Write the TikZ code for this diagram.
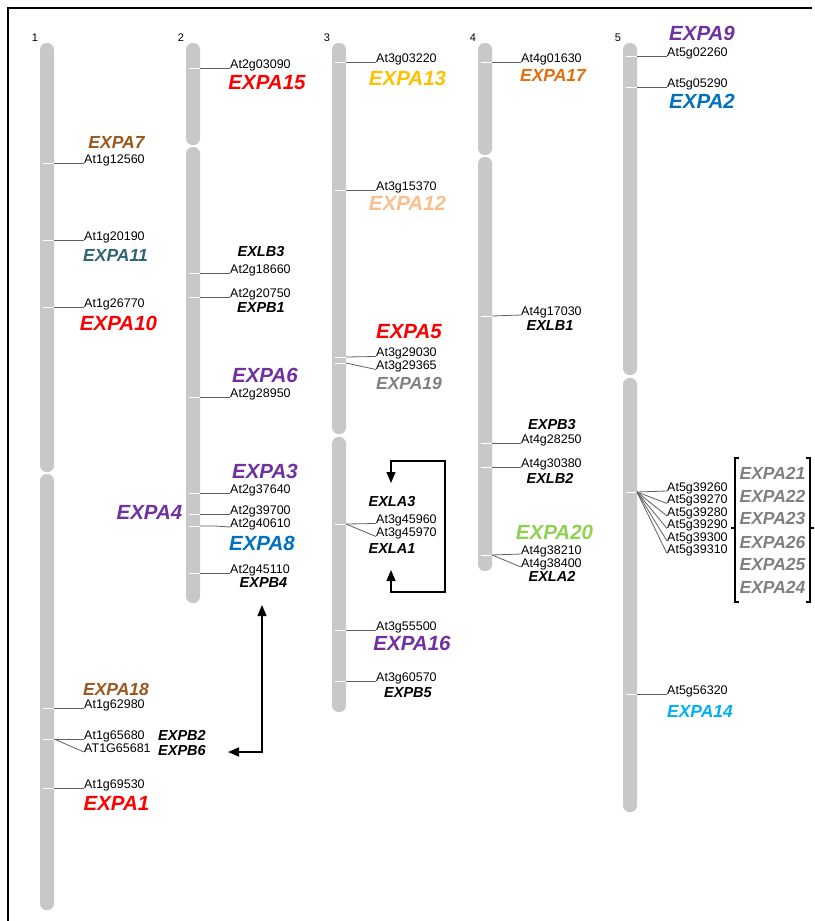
\documentclass[tikz,border=0pt]{standalone}
\usepackage{fontspec}
\setmainfont{Liberation Sans}
\usetikzlibrary{arrows.meta}

\definecolor{chromgrey}{RGB}{200,200,200}
\definecolor{linkgrey}{RGB}{95,95,95}
\definecolor{gred}{RGB}{255,0,0}
\definecolor{gpurple}{RGB}{112,48,160}
\definecolor{gblue}{RGB}{0,112,192}
\definecolor{gsky}{RGB}{0,176,240}
\definecolor{gbrown}{RGB}{156,87,28}
\definecolor{gteal}{RGB}{49,99,112}
\definecolor{ggold}{RGB}{255,192,0}
\definecolor{gpeach}{RGB}{250,191,143}
\definecolor{gorange}{RGB}{228,108,10}
\definecolor{ggreen}{RGB}{146,208,80}
\definecolor{ggrey}{RGB}{128,128,128}

\begin{document}
\begin{tikzpicture}[x=1pt,y=-1pt,
  chrom/.style={fill=chromgrey,rounded corners=6.5pt},
  band/.style={white,line width=1pt},
  link/.style={linkgrey,line width=0.8pt},
  locus/.style={inner sep=0pt,anchor=base west,font=\fontsize{12.5}{13}\selectfont},
  chrnum/.style={inner sep=0pt,font=\fontsize{11}{12}\selectfont},
  gbig/.style={inner sep=0pt,font=\fontsize{20.5}{22}\selectfont\bfseries\itshape},
  gmid/.style={inner sep=0pt,font=\fontsize{17.5}{19}\selectfont\bfseries\itshape},
  gsmall/.style={inner sep=0pt,font=\fontsize{14.5}{16}\selectfont\bfseries\itshape},
  arrowline/.style={line width=1.4pt,{Triangle[length=11pt,width=9pt]}-{Triangle[length=11pt,width=9pt]}},
  brack/.style={line width=1.3pt}
]
\useasboundingbox (0,0) rectangle (814,921);

% frame
\draw[line width=2pt] (8,921) -- (8,8) -- (812,8);

% chromosome numbers
\node[chrnum] (n1) at (35,38) {1};
\node[chrnum] (n2) at (181,38) {2};
\node[chrnum] (n3) at (327,38) {3};
\node[chrnum] (n4) at (473,38) {4};
\node[chrnum] (n5) at (618,38) {5};

% chromosome arms
\fill[chrom] (40,43) rectangle (54,472);
\fill[chrom] (40,474) rectangle (54,910);
\fill[chrom] (186,43) rectangle (200,145);
\fill[chrom] (186,147) rectangle (200,603);
\fill[chrom] (332,43) rectangle (346,434);
\fill[chrom] (332,437) rectangle (346,712);
\fill[chrom] (478,43) rectangle (492,155);
\fill[chrom] (478,157) rectangle (492,571);
\fill[chrom] (623,43) rectangle (637,375);
\fill[chrom] (623,378) rectangle (637,812);

% marker bands
\foreach \y in {163,240,307,708,739,788} \draw[band] (43,\y) -- (54,\y);
\foreach \y in {68,273,297,397,493,514,526,573} \draw[band] (189,\y) -- (200,\y);
\foreach \y in {62,190,357,363,524,630,681} \draw[band] (335,\y) -- (346,\y);
\foreach \y in {62,316,443,467,555} \draw[band] (481,\y) -- (492,\y);
\foreach \y in {56,87,492,694} \draw[band] (626,\y) -- (637,\y);

% marker anchor points on the chromosome edges
\coordinate (c1a) at (54,163);  \coordinate (c1b) at (54,240);
\coordinate (c1c) at (54,307);  \coordinate (c1d) at (54,708);
\coordinate (c1e) at (54,739);  \coordinate (c1f) at (54,788);
\coordinate (c2a) at (200,68);  \coordinate (c2b) at (200,273);
\coordinate (c2c) at (200,297); \coordinate (c2d) at (200,397);
\coordinate (c2e) at (200,493); \coordinate (c2f) at (200,514);
\coordinate (c2g) at (200,526); \coordinate (c2h) at (200,573);
\coordinate (c3a) at (346,62);  \coordinate (c3b) at (346,190);
\coordinate (c3c) at (346,357); \coordinate (c3d) at (346,363);
\coordinate (c3e) at (346,524); \coordinate (c3f) at (346,630);
\coordinate (c3g) at (346,681);
\coordinate (c4a) at (492,62);  \coordinate (c4b) at (492,316);
\coordinate (c4c) at (492,443); \coordinate (c4d) at (492,467);
\coordinate (c4e) at (492,555);
\coordinate (c5a) at (637,56);  \coordinate (c5b) at (637,87);
\coordinate (c5c) at (637,492); \coordinate (c5d) at (637,694);

% chromosome 1 loci
\node[locus] (l1a) at (84,163) {At1g12560};
\node[locus] (l1b) at (84,240) {At1g20190};
\node[locus] (l1c) at (84,307) {At1g26770};
\node[locus] (l1d) at (84,708) {At1g62980};
\node[locus] (l1e) at (84,739) {At1g65680};
\node[locus] (l1f) at (84,752) {AT1G65681};
\node[locus] (l1g) at (84,788) {At1g69530};
\draw[link] (c1a) -- (l1a.base west);
\draw[link] (c1b) -- (l1b.base west);
\draw[link] (c1c) -- (l1c.base west);
\draw[link] (c1d) -- (l1d.base west);
\draw[link] (c1e) -- (l1e.base west);
\draw[link] (c1e) -- (l1f.base west);
\draw[link] (c1f) -- (l1g.base west);

% chromosome 2 loci
\node[locus] (l2a) at (230,68) {At2g03090};
\node[locus] (l2b) at (230,273) {At2g18660};
\node[locus] (l2c) at (230,297) {At2g20750};
\node[locus] (l2d) at (230,397) {At2g28950};
\node[locus] (l2e) at (230,493) {At2g37640};
\node[locus] (l2f) at (230,514) {At2g39700};
\node[locus] (l2g) at (230,527) {At2g40610};
\node[locus] (l2h) at (230,573) {At2g45110};
\draw[link] (c2a) -- (l2a.base west);
\draw[link] (c2b) -- (l2b.base west);
\draw[link] (c2c) -- (l2c.base west);
\draw[link] (c2d) -- (l2d.base west);
\draw[link] (c2e) -- (l2e.base west);
\draw[link] (c2f) -- (l2f.base west);
\draw[link] (c2g) -- ++(15,0) -- (l2g.base west);
\draw[link] (c2h) -- (l2h.base west);

% chromosome 3 loci
\node[locus] (l3a) at (376,62) {At3g03220};
\node[locus] (l3b) at (376,190) {At3g15370};
\node[locus] (l3c) at (376,356.5) {At3g29030};
\node[locus] (l3d) at (376,369.5) {At3g29365};
\node[locus] (l3e) at (376,523.5) {At3g45960};
\node[locus] (l3f) at (376,536.5) {At3g45970};
\node[locus] (l3g) at (376,630) {At3g55500};
\node[locus] (l3h) at (376,681) {At3g60570};
\draw[link] (c3a) -- (l3a.base west);
\draw[link] (c3b) -- (l3b.base west);
\draw[link] (c3c) -- (l3c.base west);
\draw[link] (c3d) -- (l3d.base west);
\draw[link] (c3e) -- (l3e.base west);
\draw[link] (c3e) -- (l3f.base west);
\draw[link] (c3f) -- (l3g.base west);
\draw[link] (c3g) -- (l3h.base west);

% chromosome 4 loci
\node[locus] (l4a) at (521,62) {At4g01630};
\node[locus] (l4b) at (521,315) {At4g17030};
\node[locus] (l4c) at (521,443) {At4g28250};
\node[locus] (l4d) at (521,467) {At4g30380};
\node[locus] (l4e) at (521,554) {At4g38210};
\node[locus] (l4f) at (521,567) {At4g38400};
\draw[link] (c4a) -- (l4a.base west);
\draw[link] (c4b) -- (l4b.base west);
\draw[link] (c4c) -- (l4c.base west);
\draw[link] (c4d) -- (l4d.base west);
\draw[link] (c4e) -- (l4e.base west);
\draw[link] (c4e) -- (l4f.base west);

% chromosome 5 loci
\node[locus] (l5a) at (667,56) {At5g02260};
\node[locus] (l5b) at (667,87) {At5g05290};
\node[locus] (l5c) at (667,491) {At5g39260};
\node[locus] (l5d) at (667,503.5) {At5g39270};
\node[locus] (l5e) at (667,516) {At5g39280};
\node[locus] (l5f) at (667,528.5) {At5g39290};
\node[locus] (l5g) at (667,541) {At5g39300};
\node[locus] (l5h) at (667,553.5) {At5g39310};
\node[locus] (l5i) at (667,694) {At5g56320};
\draw[link] (c5a) -- (l5a.base west);
\draw[link] (c5b) -- (l5b.base west);
\foreach \n in {c,d,e,f,g,h} \draw[link] (c5c) -- (l5\n.base west);
\draw[link] (c5d) -- (l5i.base west);

% gene names, chromosome 1
\node[gmid,gbrown] (EXPA7) at (116.5,142) {EXPA7};
\node[gmid,gteal] (EXPA11) at (115.5,255) {EXPA11};
\node[gbig,gred] (EXPA10) at (118.5,323) {EXPA10};
\node[gmid,gbrown] (EXPA18) at (116,689) {EXPA18};
\node[gsmall] (EXPB2) at (182,735) {EXPB2};
\node[gsmall] (EXPB6) at (182,750) {EXPB6};
\node[gbig,gred] (EXPA1) at (116.5,803) {EXPA1};

% gene names, chromosome 2
\node[gbig,gred] (EXPA15) at (267,83) {EXPA15};
\node[gsmall] (EXLB3) at (261,252) {EXLB3};
\node[gsmall] (EXPB1) at (261,308) {EXPB1};
\node[gbig,gpurple] (EXPA6) at (265,375) {EXPA6};
\node[gbig,gpurple] (EXPA3) at (265,471) {EXPA3};
\node[gbig,gpurple] (EXPA4) at (149.5,512) {EXPA4};
\node[gbig,gblue] (EXPA8) at (262,543) {EXPA8};
\node[gsmall] (EXPB4) at (263.5,583) {EXPB4};

% gene names, chromosome 3
\node[gbig,ggold] (EXPA13) at (407.5,78) {EXPA13};
\node[gbig,gpeach] (EXPA12) at (407.5,203) {EXPA12};
\node[gbig,gred] (EXPA5) at (409,332) {EXPA5};
\node[gmid,ggrey] (EXPA19) at (409,383) {EXPA19};
\node[gsmall] (EXLA3) at (392,502) {EXLA3};
\node[gsmall] (EXLA1) at (392,549) {EXLA1};
\node[gbig,gpurple] (EXPA16) at (412,643) {EXPA16};
\node[gsmall] (EXPB5) at (408,693) {EXPB5};

% gene names, chromosome 4
\node[gmid,gorange] (EXPA17) at (553,75) {EXPA17};
\node[gsmall] (EXLB1) at (550,326) {EXLB1};
\node[gsmall] (EXPB3) at (552,425) {EXPB3};
\node[gsmall] (EXLB2) at (550,478) {EXLB2};
\node[gbig,ggreen] (EXPA20) at (554.5,532) {EXPA20};
\node[gsmall] (EXLA2) at (552,576) {EXLA2};

% gene names, chromosome 5
\node[gbig,gpurple] (EXPA9) at (702,33) {EXPA9};
\node[gbig,gblue] (EXPA2) at (702,101) {EXPA2};
\node[gmid,ggrey] (EXPA21) at (772.5,473) {EXPA21};
\node[gmid,ggrey] (EXPA22) at (772.5,496) {EXPA22};
\node[gmid,ggrey] (EXPA23) at (772.5,518) {EXPA23};
\node[gmid,ggrey] (EXPA26) at (772.5,542) {EXPA26};
\node[gmid,ggrey] (EXPA25) at (772.5,564) {EXPA25};
\node[gmid,ggrey] (EXPA24) at (772.5,587) {EXPA24};
\node[gmid,gsky] (EXPA14) at (700,711) {EXPA14};

% bracket around the tandem cluster
\draw[brack] (739,458) -- (735,458) -- (735,602) -- (739,602);
\draw[brack] (735,528) -- (731,528);
\draw[brack] (806,458) -- (810,458) -- (810,602) -- (806,602);
\draw[brack] (810,528) -- (814,528);

% duplication arrows
\coordinate (t1) at (391,483);
\coordinate (t2) at (391,461);
\coordinate (t3) at (445,461);
\coordinate (t4) at (445,592);
\coordinate (t5) at (391,592);
\coordinate (t6) at (391,570);
\draw[arrowline] (t1) -- (t2) -- (t3) -- (t4) -- (t5) -- (t6);

\coordinate (u1) at (262,605);
\coordinate (u2) at (262,752);
\coordinate (u3) at (228,752);
\draw[arrowline] (u1) -- (u2) -- (u3);
\end{tikzpicture}
\end{document}
